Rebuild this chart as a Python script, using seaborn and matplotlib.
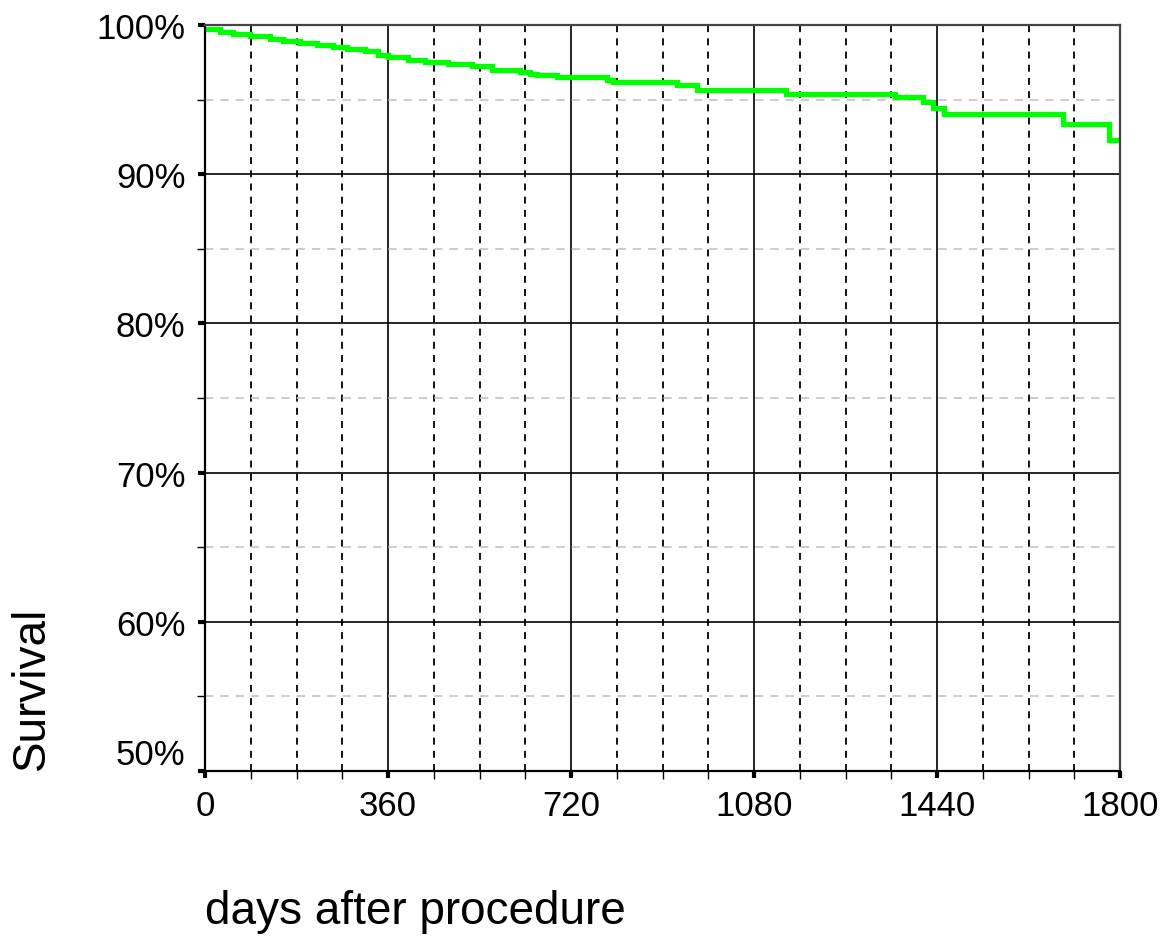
import numpy as np
import pandas as pd
import matplotlib
matplotlib.use("Agg")
import matplotlib.pyplot as plt
from matplotlib.ticker import MultipleLocator, FuncFormatter
from matplotlib.transforms import ScaledTranslation
import seaborn as sns

# Kaplan-Meier style survival estimate (step start day, survival % from that day)
days = [0, 30, 55, 89, 128, 153, 187, 220, 252, 279, 315, 340, 360, 399, 433,
        478, 525, 565, 620, 639, 653, 693, 791, 803, 929, 968, 1143, 1358,
        1412, 1432, 1454, 1688, 1778]
survival = [100.0, 99.78, 99.66, 99.51, 99.33, 99.17, 99.06, 98.93, 98.77,
            98.64, 98.50, 98.28, 98.10, 97.94, 97.77, 97.65, 97.50, 97.28,
            97.09, 96.98, 96.91, 96.76, 96.60, 96.42, 96.26, 95.91, 95.64,
            95.42, 95.10, 94.70, 94.30, 93.62, 92.57]
follow_up_end = 1800

x_ticks = [0, 360, 720, 1080, 1440, 1800]
y_ticks = [50, 60, 70, 80, 90, 100]

sns.set_theme(style="white")
plt.rcParams["font.family"] = ["Liberation Sans", "DejaVu Sans"]
plt.rcParams["lines.scale_dashes"] = False

df = pd.DataFrame({"days": days + [follow_up_end],
                   "survival": survival + [survival[-1]]})

fig = plt.figure(figsize=(11.63, 9.37), dpi=100)
ax = fig.add_axes([205 / 1163, 1 - 772 / 937, 915 / 1163, 746 / 937])

# grid: solid every 360 days / 10 %, dashed in between
ax.set_xlim(0, 1800)
ax.set_ylim(50, 100)
ax.xaxis.set_major_locator(MultipleLocator(360))
ax.xaxis.set_minor_locator(MultipleLocator(90))
ax.yaxis.set_major_locator(MultipleLocator(10))
ax.yaxis.set_minor_locator(MultipleLocator(5))
ax.set_xticks(x_ticks)
ax.set_yticks(y_ticks)
ax.yaxis.set_major_formatter(FuncFormatter(lambda v, p: f"{v:.0f}%"))

ax.grid(True, which="major", axis="both", color="black", lw=1.2, ls="-")
ax.grid(True, which="minor", axis="x", color="black", lw=1.3, dashes=(5, 4.5))
ax.grid(True, which="minor", axis="y", color="#c4c4c4", lw=1.2, dashes=(6, 5))
ax.set_axisbelow(True)

sns.lineplot(data=df, x="days", y="survival", drawstyle="steps-post",
             color="#00ff00", lw=3.8, estimator=None, ax=ax)
curve = ax.lines[-1]
curve.set_transform(ax.transData + ScaledTranslation(0, -0.04, fig.dpi_scale_trans))
curve.set_solid_joinstyle("miter")

for side in ["left", "bottom"]:
    ax.spines[side].set_color("black")
    ax.spines[side].set_linewidth(1.6)
for side in ["top", "right"]:
    ax.spines[side].set_color("#444444")
    ax.spines[side].set_linewidth(1.6)

ax.tick_params(axis="both", which="major", direction="out", length=5, width=3,
               color="black", labelsize=25, labelcolor="black")
ax.tick_params(axis="x", which="major", pad=8)
ax.tick_params(axis="y", which="major", pad=9)
ax.tick_params(axis="both", which="minor", direction="out", length=6, width=1,
               color="black")
ax.tick_params(axis="x", which="both", bottom=True)
ax.tick_params(axis="y", which="both", left=True)

ax.set_xlabel("")
ax.set_ylabel("")

# lowest y label sits just above the axis corner
for lab in ax.get_yticklabels():
    if lab.get_text() == "50%":
        lab.set_transform(lab.get_transform() + ScaledTranslation(0, 0.20, fig.dpi_scale_trans))

fig.text(32 / 1163, 1 - 688 / 937, "Survival", rotation=90, fontsize=33,
         ha="center", va="center", color="black")
fig.text(205 / 1163, 1 - 912 / 937, "days after procedure", fontsize=33,
         ha="left", va="center", color="black")

fig.savefig("out.png", dpi=100, facecolor="white")
